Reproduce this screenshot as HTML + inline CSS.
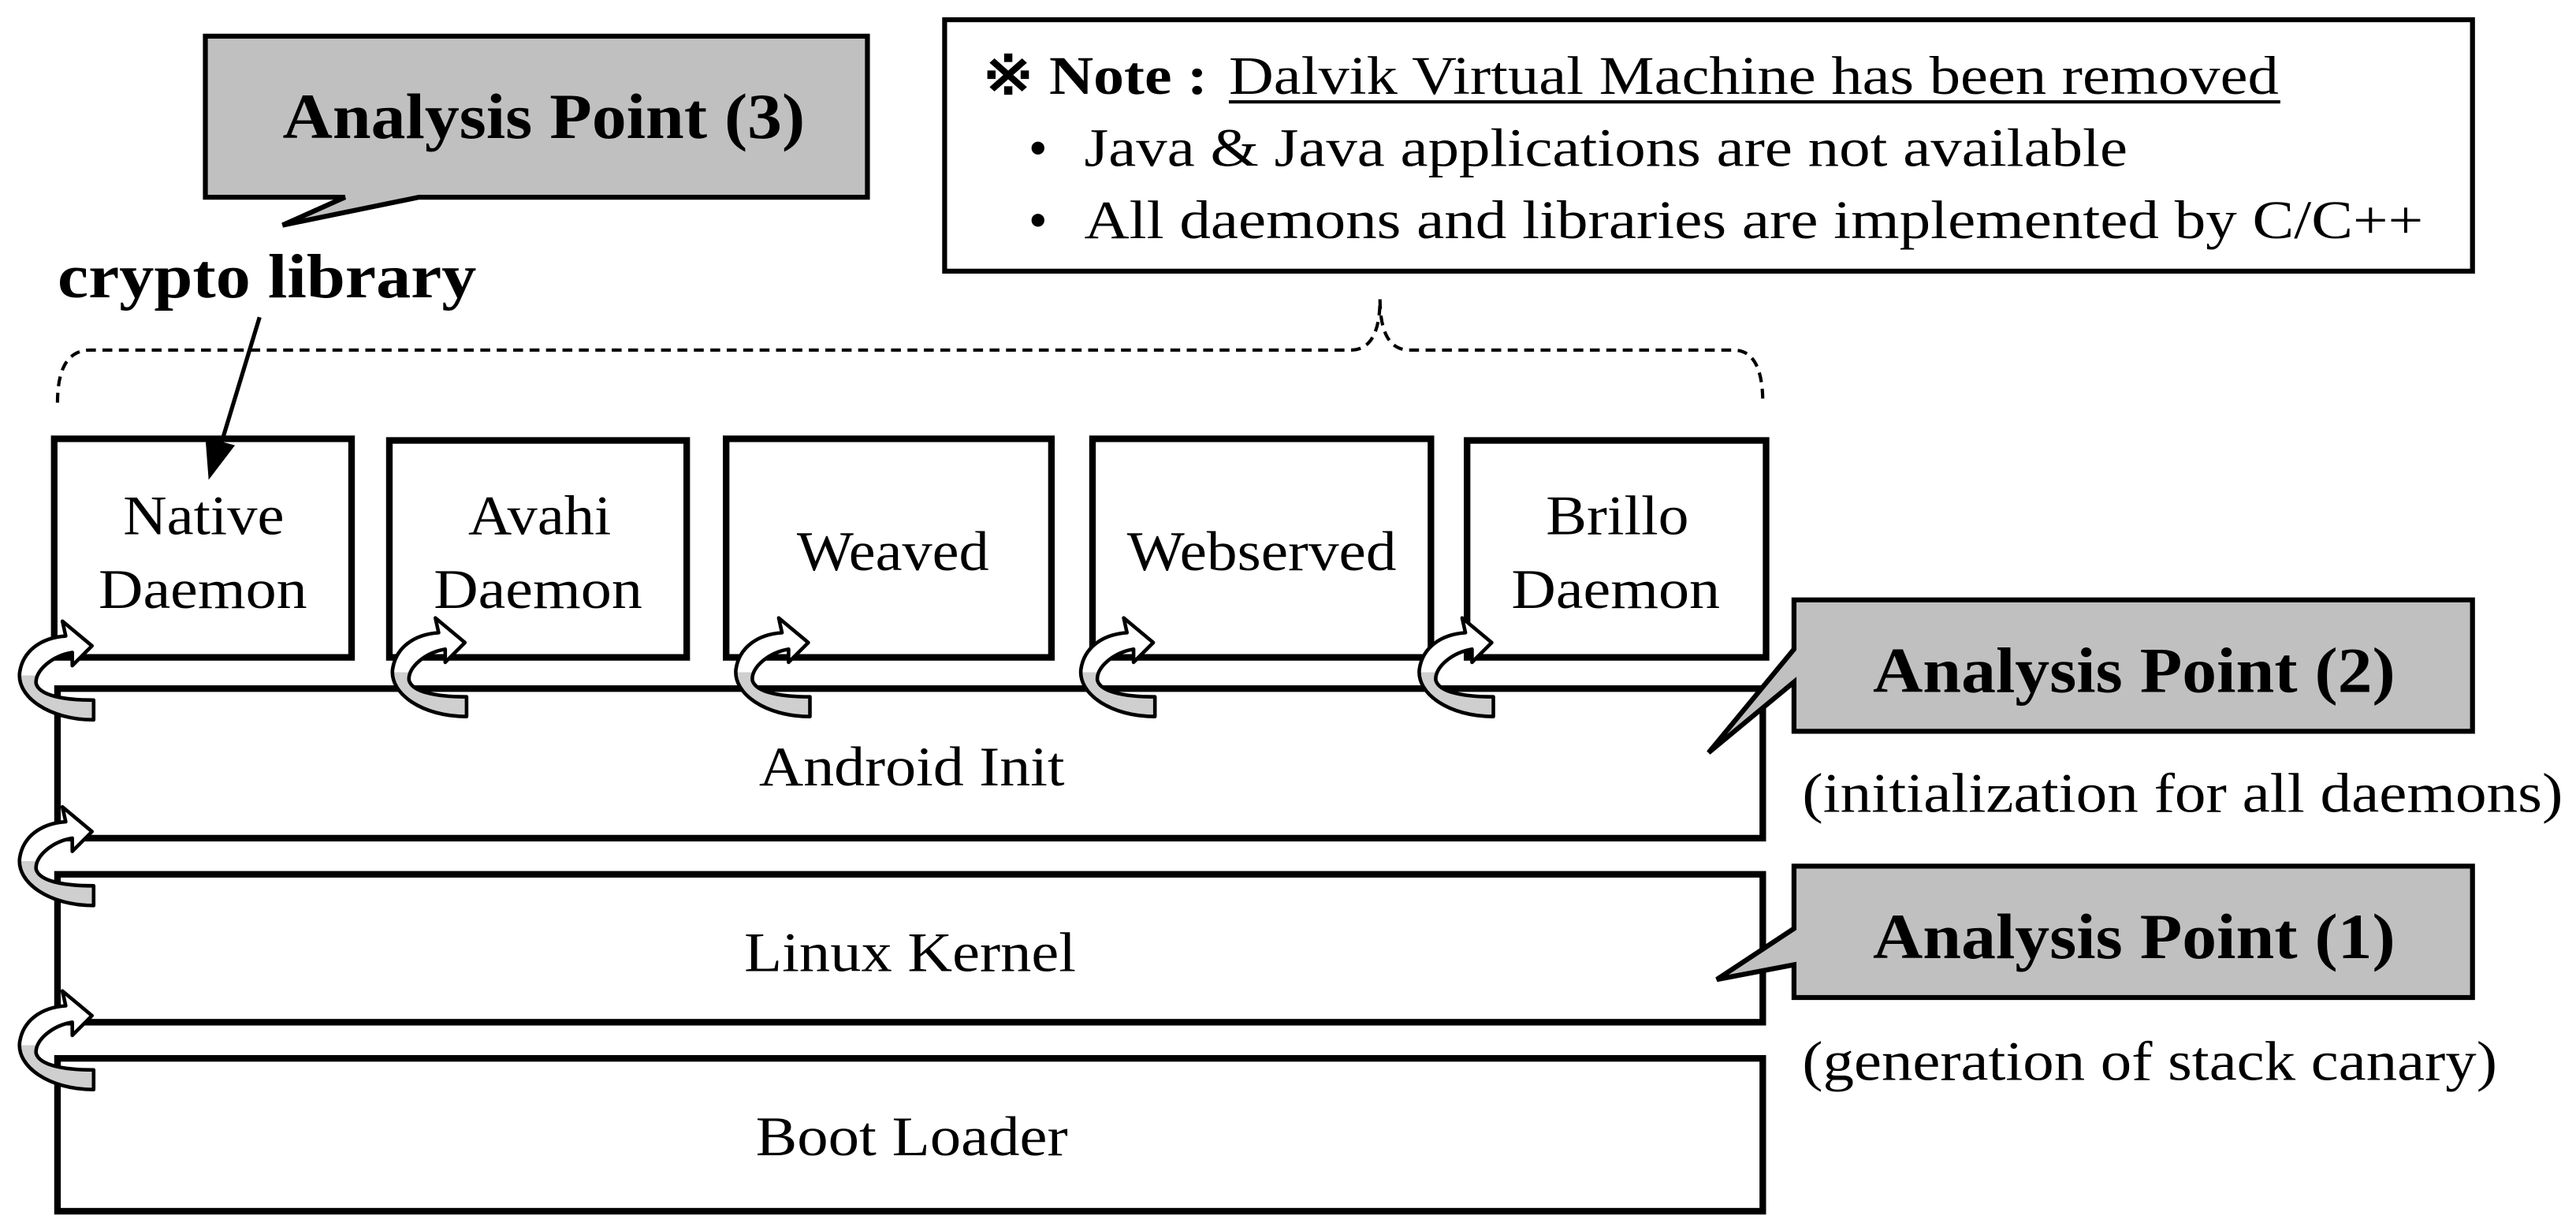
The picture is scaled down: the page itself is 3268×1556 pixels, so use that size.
<!DOCTYPE html>
<html><head><meta charset="utf-8"><style>
html,body{margin:0;padding:0;background:#fff;}
svg{display:block;}
text{font-family:"Liberation Serif","Times New Roman",serif;fill:#000;}
</style></head><body>
<svg width="3268" height="1556" viewBox="0 0 1568 746.6" preserveAspectRatio="none" xmlns="http://www.w3.org/2000/svg">
<defs>
<linearGradient id="g" x1="0" y1="0" x2="0" y2="1">
<stop offset="0.55" stop-color="#fff"/><stop offset="0.55" stop-color="#cfcfcf"/>
</linearGradient>
<g id="ca">
<path d="M47,48 V60 C20,60 0,46 2,31 C4,18 15,10 30,9 L28,0 L46,15 L34,27 L34,19 C22,21 11,30 12,38 C14,45 28,48 47,48 Z" fill="url(#g)" stroke="#000" stroke-width="2.2" stroke-linejoin="round"/>
</g>
</defs>

<!-- Note box -->
<rect x="575" y="12" width="930" height="153" fill="#fff" stroke="#000" stroke-width="3"/>
<text x="598" y="57" font-size="33" font-weight="bold" textLength="137" lengthAdjust="spacingAndGlyphs">※ Note :</text>
<text x="748" y="57" font-size="33" textLength="639" lengthAdjust="spacingAndGlyphs">Dalvik Virtual Machine has been removed</text>
<line x1="748" y1="62" x2="1388" y2="62" stroke="#000" stroke-width="2"/>
<text x="626" y="101" font-size="33">•</text>
<text x="660" y="101" font-size="33" textLength="635" lengthAdjust="spacingAndGlyphs">Java &amp; Java applications are not available</text>
<text x="626" y="145" font-size="33">•</text>
<text x="660" y="145" font-size="33" textLength="815" lengthAdjust="spacingAndGlyphs">All daemons and libraries are implemented by C/C++</text>

<!-- AP3 callout -->
<path d="M125,22 H528 V120 H255 L172,137 L210,120 H125 Z" fill="#c0c0c0" stroke="#000" stroke-width="3"/>
<text x="172" y="84" font-size="39" font-weight="bold" textLength="318" lengthAdjust="spacingAndGlyphs">Analysis Point (3)</text>
<text x="35" y="181" font-size="38" font-weight="bold" textLength="255" lengthAdjust="spacingAndGlyphs">crypto library</text>

<!-- dashed brace -->
<path d="M35,245 Q35,213 55,213 H822 Q840,213 840,182 Q840,213 858,213 H1055 Q1073,213 1073,245" fill="none" stroke="#000" stroke-width="2" stroke-dasharray="6,4"/>

<!-- daemon boxes -->
<g fill="#fff" stroke="#000" stroke-width="4">
<rect x="33" y="267" width="181" height="133"/>
<rect x="237" y="268" width="181" height="132"/>
<rect x="442" y="267" width="198" height="133"/>
<rect x="665" y="267" width="206" height="133"/>
<rect x="893" y="268" width="182" height="132"/>
</g>
<line x1="158" y1="193" x2="134" y2="272" stroke="#000" stroke-width="2.5"/>
<polygon points="127,292 125,266 143,271" fill="#000"/>
<g font-size="34" lengthAdjust="spacingAndGlyphs">
<text x="75" y="325" textLength="98" lengthAdjust="spacingAndGlyphs">Native</text>
<text x="60" y="370" textLength="127" lengthAdjust="spacingAndGlyphs">Daemon</text>
<text x="285" y="325" textLength="87" lengthAdjust="spacingAndGlyphs">Avahi</text>
<text x="264" y="370" textLength="127" lengthAdjust="spacingAndGlyphs">Daemon</text>
<text x="485" y="347" textLength="117" lengthAdjust="spacingAndGlyphs">Weaved</text>
<text x="686" y="347" textLength="164" lengthAdjust="spacingAndGlyphs">Webserved</text>
<text x="941" y="325" textLength="87" lengthAdjust="spacingAndGlyphs">Brillo</text>
<text x="920" y="370" textLength="127" lengthAdjust="spacingAndGlyphs">Daemon</text>
</g>

<!-- layers -->
<g fill="#fff" stroke="#000" stroke-width="4">
<rect x="35" y="419" width="1038" height="91"/>
<rect x="35" y="532" width="1038" height="90"/>
<rect x="35" y="644" width="1038" height="93"/>
</g>
<g font-size="34">
<text x="462" y="478" textLength="186" lengthAdjust="spacingAndGlyphs">Android Init</text>
<text x="453" y="591" textLength="202" lengthAdjust="spacingAndGlyphs">Linux Kernel</text>
<text x="460" y="703" textLength="190" lengthAdjust="spacingAndGlyphs">Boot Loader</text>
</g>

<!-- curved arrows -->
<use href="#ca" x="10" y="378"/>
<use href="#ca" x="237" y="376"/>
<use href="#ca" x="446" y="376"/>
<use href="#ca" x="656" y="376"/>
<use href="#ca" x="862" y="376"/>
<use href="#ca" x="10" y="491"/>
<use href="#ca" x="10" y="603"/>

<!-- AP2 -->
<path d="M1092,365 H1505 V445 H1092 V415 L1040,458 L1092,395 Z" fill="#c0c0c0" stroke="#000" stroke-width="3"/>
<text x="1140" y="421" font-size="39" font-weight="bold" textLength="318" lengthAdjust="spacingAndGlyphs">Analysis Point (2)</text>
<text x="1097" y="494" font-size="34" textLength="463" lengthAdjust="spacingAndGlyphs">(initialization for all daemons)</text>

<!-- AP1 -->
<path d="M1092,527 H1505 V607 H1092 V587 L1045,596 L1092,565 Z" fill="#c0c0c0" stroke="#000" stroke-width="3"/>
<text x="1140" y="583" font-size="39" font-weight="bold" textLength="318" lengthAdjust="spacingAndGlyphs">Analysis Point (1)</text>
<text x="1097" y="657" font-size="34" textLength="423" lengthAdjust="spacingAndGlyphs">(generation of stack canary)</text>
</svg>
</body></html>
